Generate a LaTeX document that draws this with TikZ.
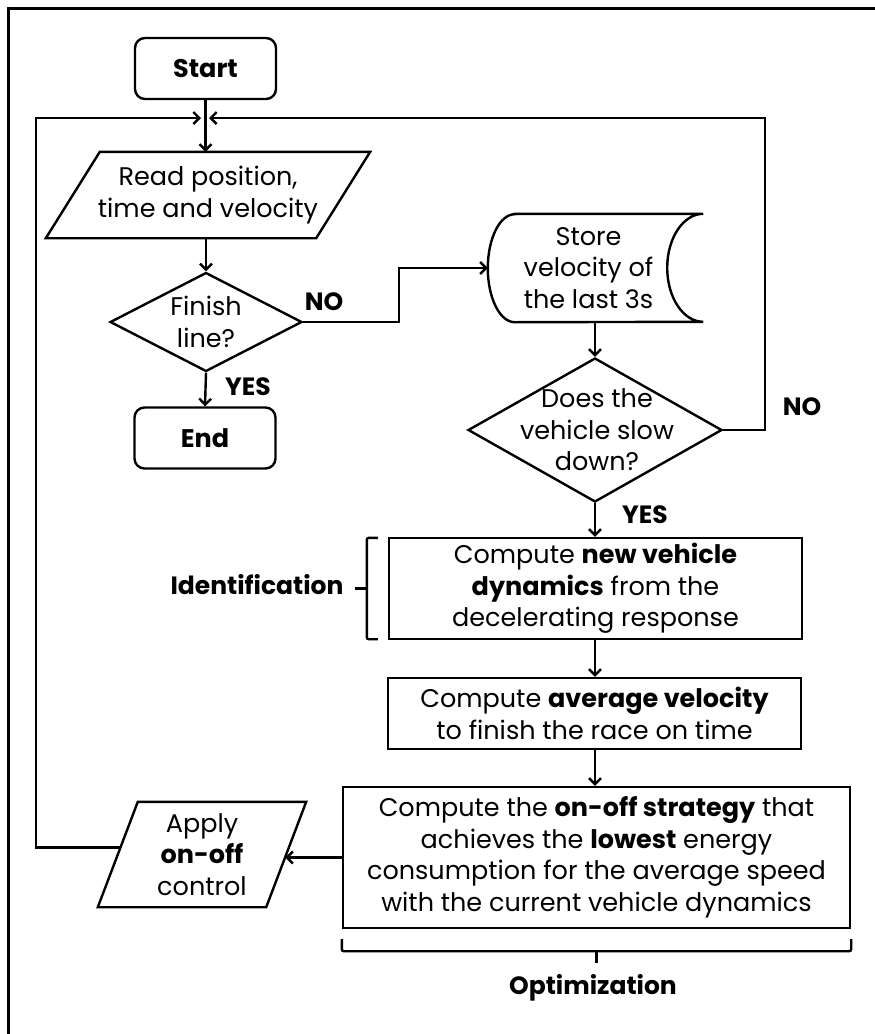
\documentclass[tikz,border=0pt]{standalone}
\usepackage{fontspec}
\setmainfont{Poppins}
\usetikzlibrary{shapes.geometric,arrows.meta}
\begin{document}
\begin{tikzpicture}[x=1pt,y=-1pt,
  every node/.style={font=\fontsize{25.5}{31.5}\selectfont},
  lbl/.style={font=\fontsize{25}{31.5}\selectfont\bfseries},
  line/.style={line width=2.4pt},
  arr/.style={line width=2.4pt,-{Straight Barb[length=6pt,width=12pt]}},
  term/.style={draw,line width=2.4pt,rounded corners=10pt,minimum width=141pt,minimum height=61pt},
  proc/.style={draw,line width=2.4pt,align=center,inner sep=0pt},
  ghost/.style={inner sep=0pt,align=center},
  dia/.style={draw,diamond,line width=2.4pt,inner sep=0pt}
]
\useasboundingbox (0,0) rectangle (875,1034);
\draw[line width=3pt] (8,1034) -- (8,8) -- (875,8);

% nodes
\node[term] (start) at (205.5,68.5) {\bfseries Start};
\node[ghost,minimum width=270pt,minimum height=86pt] (read) at (208,195) {Read position,\\time and velocity};
\draw[line] ([xshift=27pt]read.north west) -- ([xshift=27pt]read.north east) -- ([xshift=-27pt]read.south east) -- ([xshift=-27pt]read.south west) -- cycle;

\node[dia,minimum width=192pt,minimum height=99pt] (d1) at (206,322) {};
\node[ghost] (d1t) at (d1) {Finish\\line?};

\node[term] (end) at (205,438) {\bfseries End};

\node[ghost,minimum width=215pt,minimum height=108pt] (store) at (595.5,268) {};
\draw[line] ([xshift=27pt]store.north west) -- (store.north east)
  arc[start angle=90,end angle=270,x radius=36pt,y radius=54pt]
  -- ([xshift=27pt]store.south west)
  arc[start angle=270,end angle=90,x radius=27pt,y radius=54pt] -- cycle;
\node[ghost] (storet) at ([xshift=-7pt]store.center) {Store\\velocity of\\the last 3s};

\node[dia,minimum width=254pt,minimum height=144pt] (d2) at (595,430) {};
\node[ghost] (d2t) at (597,430) {Does the\\vehicle slow\\down?};

\node[proc,minimum width=413pt,minimum height=101pt] (ident) at (595.5,588.5) {Compute \textbf{new vehicle}\\\textbf{dynamics} from the\\decelerating response};
\node[proc,minimum width=413pt,minimum height=71pt] (avg) at (594.5,713.5) {Compute \textbf{average velocity}\\to finish the race on time};
\node[proc,minimum width=507pt,minimum height=141pt] (strat) at (596.5,857.5) {Compute the \textbf{on-off strategy} that\\achieves the \textbf{lowest} energy\\consumption for the average speed\\with the current vehicle dynamics};

\node[ghost,minimum width=168pt,minimum height=105pt] (apply) at (202,854.5) {Apply\\\textbf{on-off}\\control};
\draw[line] ([xshift=20pt]apply.north west) -- ([xshift=20pt]apply.north east) -- ([xshift=-20pt]apply.south east) -- ([xshift=-20pt]apply.south west) -- cycle;

% labels
\node[lbl] (no1) at (324,302) {NO};
\node[lbl] (yes1) at (248,387) {YES};
\node[lbl] (no2) at (802,407) {NO};
\node[lbl] (yes2) at (645,515) {YES};
\node[lbl] (idl) at (257,585) {Identification};
\node[lbl] (optl) at (593,988) {Optimization};

% braces
\draw[line,rounded corners=2pt] ([xshift=-10pt,yshift=-1pt]ident.north west) -- ([xshift=-21pt,yshift=-1pt]ident.north west) -- ([xshift=-21pt,yshift=1pt]ident.south west) -- ([xshift=-10pt,yshift=1pt]ident.south west);
\draw[line] ([xshift=-21pt]ident.west) -- ([xshift=-33pt]ident.west);
\draw[line,rounded corners=2pt] ([yshift=-10pt]strat.south west) -- ([yshift=-22pt]strat.south west) -- ([yshift=-22pt]strat.south east) -- ([yshift=-10pt]strat.south east);
\draw[line] ([yshift=-22pt]strat.south) -- ([yshift=-34pt]strat.south);

% connectors
\coordinate (m) at (205,118);
\coordinate (rloop) at (765,118);
\coordinate (lloop) at (36,118);
\draw[arr] (start.south) -- (start.south |- read.north);
\draw[arr] (read.south -| d1.north) -- (d1.north);
\draw[arr] (d1.south) -- (end.north);
\draw[arr] (d1.east) -- ++(96,0) |- (store.west);
\draw[arr] (store.south -| d2.north) -- (d2.north);
\draw[arr,shorten >=4pt] (d2.east) -| (rloop) -- (m);
\draw[arr] (d2.south) -- (d2.south |- ident.north);
\draw[arr] (ident.south -| d2.south) -- (avg.north -| d2.south);
\draw[arr] (avg.south -| d2.south) -- (strat.north -| d2.south);
\draw[arr] (strat.west) -- ([xshift=-1pt]strat.west -| apply.east);
\draw[arr,shorten >=4pt] ([xshift=2.7pt,yshift=7pt]apply.west) -| (lloop) -- (m);
\end{tikzpicture}
\end{document}
